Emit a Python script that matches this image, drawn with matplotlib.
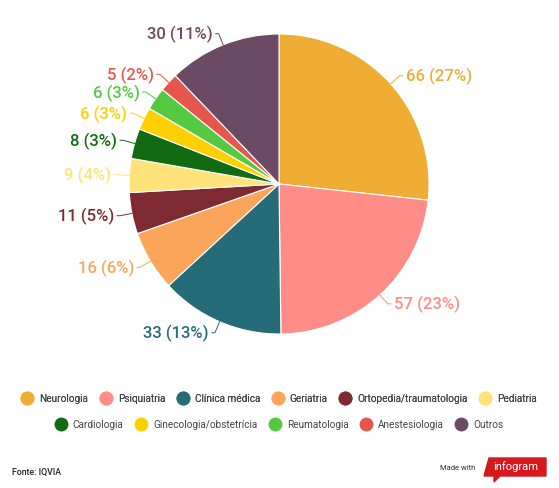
import matplotlib.pyplot as plt
import numpy as np
from matplotlib.patches import Polygon

plt.rcParams['font.family'] = ['Roboto', 'DejaVu Sans']

# especialidades e número de médicos
categorias = ["Neurologia", "Psiquiatria", "Clínica médica", "Geriatria",
              "Ortopedia/traumatologia", "Pediatria", "Cardiologia",
              "Ginecologia/obstetrícia", "Reumatologia", "Anestesiologia", "Outros"]
valores = [66, 57, 33, 16, 11, 9, 8, 6, 6, 5, 30]
percentuais = [27, 23, 13, 6, 5, 4, 3, 3, 3, 2, 11]
cores = ["#F0AD33", "#FF8C87", "#266B78", "#FBA55A", "#7E2A33", "#FFE27A",
         "#116B13", "#FFD000", "#54C941", "#E5574C", "#6B4A63"]

W, H = 559, 489
fig = plt.figure(figsize=(W / 100, H / 100), dpi=100)
fig.patch.set_facecolor("white")

# eixo do gráfico de pizza
cx, cy, r = 279, 185, 150
ax = fig.add_axes([(cx - r) / W, 1 - (cy + r) / H, 2 * r / W, 2 * r / H])
wedges, _ = ax.pie(valores, colors=cores, startangle=90, counterclock=False,
                   wedgeprops=dict(edgecolor="white", linewidth=0.8))
ax.set_xlim(-1, 1)
ax.set_ylim(-1, 1)
ax.set_aspect("equal")
ax.axis("off")

for w, v, p, c in zip(wedges, valores, percentuais, cores):
    ang = np.deg2rad((w.theta1 + w.theta2) / 2)
    x, y = np.cos(ang), np.sin(ang)
    ha = "left" if x > 0 else "right"
    sx = 1 if x > 0 else -1
    rl = 1.08
    ax.plot([x, rl * x, rl * x + sx * 0.02], [y, rl * y, rl * y],
            color=c, lw=0.7, clip_on=False)
    ax.text(rl * x + sx * 0.04, rl * y, f"{v} ({p}%)", color=c,
            fontsize=12, fontweight="medium", ha=ha, va="center")

# legenda em duas linhas
handles = [plt.Line2D([], [], marker="o", ls="", markersize=9,
                      markerfacecolor=c, markeredgecolor=c) for c in cores]
kw = dict(loc="center", frameon=False, fontsize=7.2, handletextpad=0.7,
          columnspacing=1.25, handlelength=1.0, labelcolor="#444444")
leg1 = fig.legend(handles[:6], categorias[:6], bbox_to_anchor=(0.5, 1 - 399 / H),
                  ncol=6, **kw)
fig.add_artist(leg1)
fig.legend(handles[6:], categorias[6:], bbox_to_anchor=(0.5, 1 - 425 / H),
           ncol=5, **kw)

fig.text(12 / W, 1 - 472 / H, "Fonte: IQVIA", fontsize=6.3, color="#222222",
         fontweight="medium", va="center")
fig.text(440 / W, 1 - 468 / H, "Made with", fontsize=5.5, color="#333333",
         va="center")
badge = Polygon([(489 / W, 1 - 459 / H), (546 / W, 1 - 459 / H),
                 (546 / W, 1 - 477 / H), (500 / W, 1 - 477 / H),
                 (494 / W, 1 - 483 / H), (494 / W, 1 - 477 / H),
                 (484 / W, 1 - 477 / H)],
                closed=True, transform=fig.transFigure, color="#D7191E")
fig.add_artist(badge)
fig.text(516 / W, 1 - 467 / H, "infogram", fontsize=8, color="white",
         ha="center", va="center")

fig.savefig("out.png", dpi=100)
